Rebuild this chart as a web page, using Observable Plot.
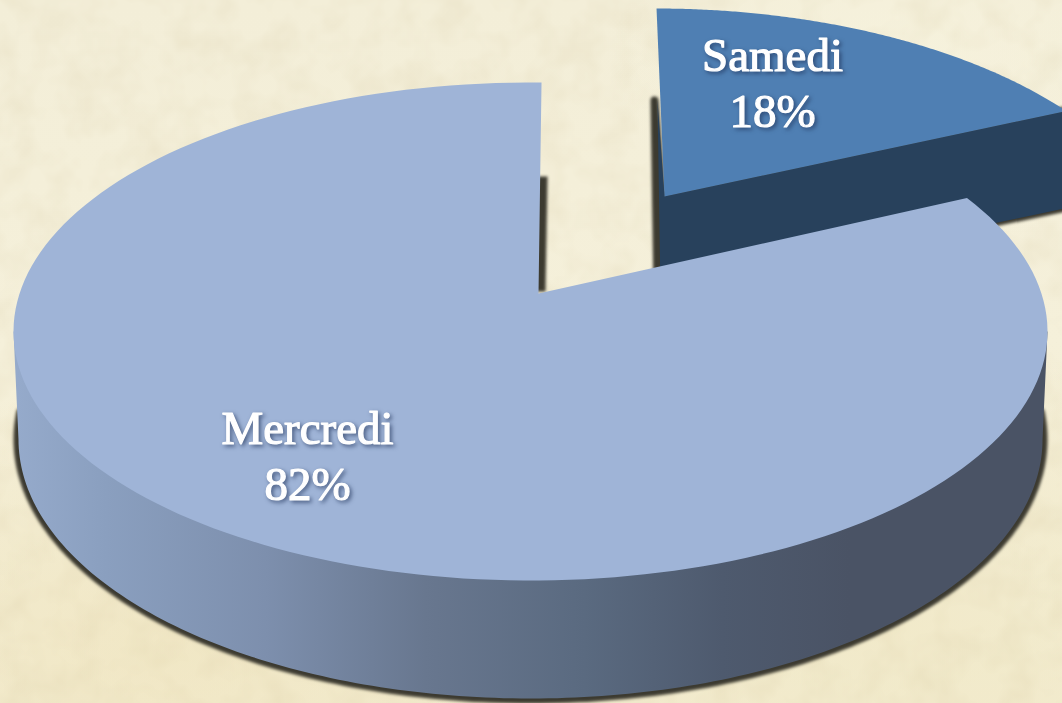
<!DOCTYPE html>
<html lang="fr">
<head>
<meta charset="utf-8">
<script src="https://cdn.jsdelivr.net/npm/d3@7"></script>
<script src="https://cdn.jsdelivr.net/npm/@observablehq/plot@0.6"></script>
<style>
html, body { margin: 0; padding: 0; width: 1062px; height: 703px; overflow: hidden; }
body {
  background:
    url("data:image/svg+xml,%3Csvg xmlns='http://www.w3.org/2000/svg' width='1062' height='703'%3E%3Cfilter id='n'%3E%3CfeTurbulence type='fractalNoise' baseFrequency='0.03' numOctaves='3' seed='7'/%3E%3CfeColorMatrix values='0 0 0 0 0.62 0 0 0 0 0.52 0 0 0 0 0.30 0 0 0 0.3 -0.11'/%3E%3C/filter%3E%3Crect width='1062' height='703' filter='url(%23n)'/%3E%3C/svg%3E"),
    radial-gradient(ellipse 420px 260px at 170px 640px, rgba(238,226,186,.55), rgba(238,226,186,0)),
    radial-gradient(ellipse 500px 300px at 880px 620px, rgba(240,232,198,.7), rgba(240,232,198,0)),
    radial-gradient(ellipse 300px 200px at 900px 60px, rgba(247,243,222,.7), rgba(247,243,222,0)),
    linear-gradient(180deg, #f3eed8 0%, #f5f0da 50%, #f3ecd0 100%);
}
svg { display: block; }
.soft-shadow { filter: blur(1.4px); }
.pie-label { filter: drop-shadow(2px 2px 2px rgba(28,46,84,.65)); }
</style>
</head>
<body>
<script>
const days = ["Samedi", "Mercredi"];
const shares = [18, 82];
const topColors = ["#4f7fb3", "#9fb4d7"];
const sideStops = [[0, "#97accd"], [0.1, "#8a9fbf"], [0.25, "#7d8fad"], [0.4, "#68778f"], [0.55, "#5a6a80"], [0.68, "#4e5a6e"], [0.8, "#4a5365"], [1, "#4a5365"]];
const sideDark = "#28415c";
const shadowColor = "#3c3a30";
const W = 1062, H = 703;

// Layout of each exploded slice: rim ellipse, apex and ray shape
const layouts = {
  Samedi:   {cx: 655, cy: 269, rx: 517, ry: 261, ax: 664, ay: 196, k: 0.448, s: -0.019, depth: 97},
  Mercredi: {cx: 530, cy: 331, rx: 517, ry: 249, ax: 538, ay: 293, k: 0.475, s: 0.0068, depth: 105}
};
const lowerRim = {cx: 530, cy: 439, rx: 512, ry: 259};
const rad = d => d * Math.PI / 180;

// Point where the ray of share angle theta leaves the rim ellipse
function rimAngle(p, theta) {
  const t = rad(theta);
  const dx = (Math.sin(t) + p.s * Math.cos(t)) / p.rx;
  const dy = (-p.k * Math.cos(t)) / p.ry;
  const ox = (p.ax - p.cx) / p.rx, oy = (p.ay - p.cy) / p.ry;
  const a = dx * dx + dy * dy, b = 2 * (ox * dx + oy * dy), c = ox * ox + oy * oy - 1;
  const u = (-b + Math.sqrt(b * b - 4 * a * c)) / (2 * a);
  return Math.atan2(ox + u * dx, -(oy + u * dy));
}
const onRim = (p, phi) => [p.cx + p.rx * Math.sin(phi), p.cy - p.ry * Math.cos(phi)];
function arc(p, from, to, n = 180) {
  return d3.range(n + 1).map(i => onRim(p, from + (to - from) * i / n));
}
let acc = 0;
const slices = days.map((day, i) => {
  const p = layouts[day];
  const a0 = acc * 3.6, a1 = (acc + shares[i]) * 3.6;
  acc += shares[i];
  const phi0 = rimAngle(p, a0);
  let phi1 = rimAngle(p, a1);
  if (phi1 < phi0) phi1 += 2 * Math.PI;
  return {day, share: shares[i], color: topColors[i], p, rim: arc(p, phi0, phi1)};
});
const [sam, mer] = slices;
const apexOf = p => [p.ax, p.ay];
const topFace = s => [apexOf(s.p), ...s.rim];

// Samedi's extruded wall
const end = sam.rim[sam.rim.length - 1];
const samWall = [
  [sam.p.ax - 7, sam.p.ay - 96], apexOf(sam.p), end,
  [end[0], end[1] + sam.p.depth], [sam.p.ax - 4, sam.p.ay + sam.p.depth]
];
// Mercredi's wall: lower half of the bottom rim joined to the top rim's extremes
const merWall = [
  [mer.p.cx - mer.p.rx, mer.p.cy],
  ...arc(lowerRim, rad(270), rad(90)),
  [mer.p.cx + mer.p.rx, mer.p.cy]
];
const merShadow = arc(lowerRim, rad(276), rad(84));
const notchShadow = [[mer.p.ax + 4, mer.p.ay - 117], [mer.p.ax + 2, mer.p.ay - 2]];

function gradient() {
  const ns = "http://www.w3.org/2000/svg";
  const defs = document.createElementNS(ns, "defs");
  const g = document.createElementNS(ns, "linearGradient");
  g.setAttribute("id", "sideGrad");
  g.setAttribute("gradientUnits", "userSpaceOnUse");
  g.setAttribute("x1", 0); g.setAttribute("x2", W);
  g.setAttribute("y1", 0); g.setAttribute("y2", 0);
  sideStops.forEach(([o, c]) => {
    const st = document.createElementNS(ns, "stop");
    st.setAttribute("offset", o); st.setAttribute("stop-color", c);
    g.appendChild(st);
  });
  defs.appendChild(g);
  return defs;
}

const X = d => d[0], Y = d => d[1];
const poly = (pts, o) => Plot.line(pts, {x: X, y: Y, curve: "linear-closed", ...o});

const chart = Plot.plot({
  width: W, height: H,
  margin: 0,
  x: {domain: [0, W], axis: null},
  y: {domain: [H, 0], axis: null},
  style: {background: "transparent"},
  marks: [
    gradient,
    // Samedi
    poly(samWall, {stroke: shadowColor, strokeWidth: 8, fill: shadowColor, dx: -3, className: "soft-shadow"}),
    poly(samWall, {stroke: "none", fill: sideDark}),
    poly(topFace(sam), {stroke: "none", fill: sam.color}),
    // Mercredi
    Plot.line(notchShadow, {x: X, y: Y, stroke: shadowColor, strokeWidth: 10, strokeLinecap: "butt", className: "soft-shadow"}),
    Plot.line(merShadow, {x: X, y: Y, stroke: shadowColor, strokeWidth: 10, className: "soft-shadow"}),
    poly(merWall, {stroke: "none", fill: "url(#sideGrad)"}),
    poly(topFace(mer), {stroke: "none", fill: mer.color}),
    // Labels
    Plot.text(slices, {
      x: d => d.day === "Samedi" ? 772 : 307,
      y: d => d.day === "Samedi" ? 70 : 443,
      text: d => `${d.day}\n${d.share}%`,
      fill: "white", stroke: "white", strokeWidth: 1.2,
      fontFamily: "'Liberation Serif', serif", fontSize: 47,
      lineHeight: 1.19, lineAnchor: "bottom", textAnchor: "middle", dy: 56,
      className: "pie-label"
    })
  ]
});
document.body.appendChild(chart);
</script>
</body>
</html>
